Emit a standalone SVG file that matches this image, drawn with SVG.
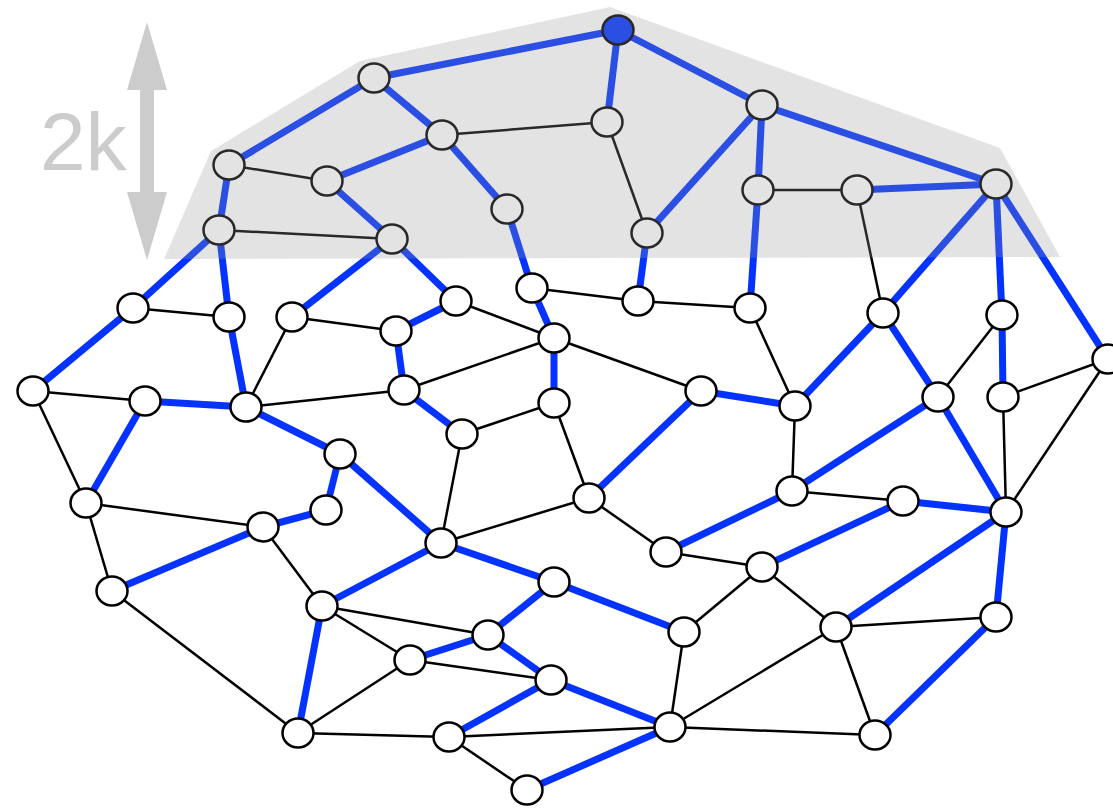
<svg xmlns="http://www.w3.org/2000/svg" width="1113" height="808" viewBox="0 0 1113 808">
<style>
.b{stroke:#0433ff;stroke-width:7;stroke-linecap:butt}
.k{stroke:#000;stroke-width:2.5}
.n{fill:#fff;stroke:#000;stroke-width:2.5}
.f{fill:#0433ff;stroke:#000;stroke-width:2.5}
.shade{fill:#999;opacity:0.27}
.arr{fill:#cccccc}
.lbl{font-family:"Liberation Sans",Arial,sans-serif;font-size:82px;fill:#cccccc}
</style>
<g id="connectors">
<line class="k" x1="229" y1="165" x2="327" y2="181"/>
<line class="k" x1="442" y1="135" x2="607" y2="122"/>
<line class="k" x1="607" y1="122" x2="647" y2="233"/>
<line class="k" x1="758" y1="190" x2="857" y2="190"/>
<line class="k" x1="857" y1="190" x2="883" y2="313"/>
<line class="k" x1="219" y1="230" x2="392" y2="239"/>
<line class="k" x1="133" y1="308" x2="229" y2="317"/>
<line class="k" x1="292" y1="317" x2="396" y2="331"/>
<line class="k" x1="292" y1="317" x2="246" y2="407"/>
<line class="k" x1="33" y1="391" x2="145" y2="401"/>
<line class="k" x1="33" y1="391" x2="86" y2="503"/>
<line class="k" x1="246" y1="407" x2="404" y2="390"/>
<line class="k" x1="86" y1="503" x2="263" y2="527"/>
<line class="k" x1="263" y1="527" x2="322" y2="606"/>
<line class="k" x1="112" y1="591" x2="298" y2="733"/>
<line class="k" x1="86" y1="503" x2="112" y2="591"/>
<line class="k" x1="456" y1="301" x2="554" y2="338"/>
<line class="k" x1="532" y1="288" x2="638" y2="301"/>
<line class="k" x1="638" y1="301" x2="750" y2="308"/>
<line class="k" x1="554" y1="338" x2="404" y2="390"/>
<line class="k" x1="554" y1="338" x2="701" y2="391"/>
<line class="k" x1="462" y1="434" x2="554" y2="403"/>
<line class="k" x1="462" y1="434" x2="441" y2="543"/>
<line class="k" x1="554" y1="403" x2="589" y2="498"/>
<line class="k" x1="589" y1="498" x2="441" y2="543"/>
<line class="k" x1="589" y1="498" x2="666" y2="552"/>
<line class="k" x1="750" y1="308" x2="795" y2="406"/>
<line class="k" x1="795" y1="406" x2="792" y2="491"/>
<line class="k" x1="792" y1="491" x2="903" y2="501"/>
<line class="k" x1="938" y1="397" x2="1002" y2="315"/>
<line class="k" x1="1003" y1="397" x2="1108" y2="359"/>
<line class="k" x1="1003" y1="397" x2="1006" y2="512"/>
<line class="k" x1="1108" y1="359" x2="1006" y2="512"/>
<line class="k" x1="762" y1="567" x2="684" y2="632"/>
<line class="k" x1="762" y1="567" x2="836" y2="627"/>
<line class="k" x1="836" y1="627" x2="996" y2="617"/>
<line class="k" x1="836" y1="627" x2="670" y2="727"/>
<line class="k" x1="836" y1="627" x2="875" y2="735"/>
<line class="k" x1="875" y1="735" x2="670" y2="727"/>
<line class="k" x1="666" y1="552" x2="762" y2="567"/>
<line class="k" x1="684" y1="632" x2="670" y2="727"/>
<line class="k" x1="670" y1="727" x2="449" y2="737"/>
<line class="k" x1="298" y1="733" x2="449" y2="737"/>
<line class="k" x1="449" y1="737" x2="527" y2="790"/>
<line class="k" x1="322" y1="606" x2="488" y2="635"/>
<line class="k" x1="322" y1="606" x2="410" y2="660"/>
<line class="k" x1="410" y1="660" x2="551" y2="680"/>
<line class="k" x1="410" y1="660" x2="298" y2="733"/>

<line class="b" x1="618" y1="30" x2="374" y2="78"/>
<line class="b" x1="618" y1="30" x2="607" y2="122"/>
<line class="b" x1="618" y1="30" x2="762" y2="105"/>
<line class="b" x1="374" y1="78" x2="229" y2="165"/>
<line class="b" x1="374" y1="78" x2="442" y2="135"/>
<line class="b" x1="442" y1="135" x2="327" y2="181"/>
<line class="b" x1="442" y1="135" x2="507" y2="209"/>
<line class="b" x1="762" y1="105" x2="647" y2="233"/>
<line class="b" x1="762" y1="105" x2="758" y2="190"/>
<line class="b" x1="762" y1="105" x2="996" y2="184"/>
<line class="b" x1="857" y1="190" x2="996" y2="184"/>
<line class="b" x1="996" y1="184" x2="883" y2="313"/>
<line class="b" x1="996" y1="184" x2="1002" y2="315"/>
<line class="b" x1="996" y1="184" x2="1108" y2="359"/>
<line class="b" x1="229" y1="165" x2="219" y2="230"/>
<line class="b" x1="327" y1="181" x2="392" y2="239"/>
<line class="b" x1="219" y1="230" x2="133" y2="308"/>
<line class="b" x1="219" y1="230" x2="229" y2="317"/>
<line class="b" x1="229" y1="317" x2="246" y2="407"/>
<line class="b" x1="392" y1="239" x2="292" y2="317"/>
<line class="b" x1="392" y1="239" x2="456" y2="301"/>
<line class="b" x1="507" y1="209" x2="532" y2="288"/>
<line class="b" x1="532" y1="288" x2="554" y2="338"/>
<line class="b" x1="554" y1="338" x2="554" y2="403"/>
<line class="b" x1="647" y1="233" x2="638" y2="301"/>
<line class="b" x1="758" y1="190" x2="750" y2="308"/>
<line class="b" x1="133" y1="308" x2="33" y2="391"/>
<line class="b" x1="145" y1="401" x2="86" y2="503"/>
<line class="b" x1="145" y1="401" x2="246" y2="407"/>
<line class="b" x1="246" y1="407" x2="340" y2="454"/>
<line class="b" x1="340" y1="454" x2="326" y2="510"/>
<line class="b" x1="340" y1="454" x2="441" y2="543"/>
<line class="b" x1="326" y1="510" x2="263" y2="527"/>
<line class="b" x1="263" y1="527" x2="112" y2="591"/>
<line class="b" x1="456" y1="301" x2="396" y2="331"/>
<line class="b" x1="396" y1="331" x2="404" y2="390"/>
<line class="b" x1="404" y1="390" x2="462" y2="434"/>
<line class="b" x1="701" y1="391" x2="795" y2="406"/>
<line class="b" x1="701" y1="391" x2="589" y2="498"/>
<line class="b" x1="883" y1="313" x2="795" y2="406"/>
<line class="b" x1="883" y1="313" x2="938" y2="397"/>
<line class="b" x1="938" y1="397" x2="792" y2="491"/>
<line class="b" x1="938" y1="397" x2="1006" y2="512"/>
<line class="b" x1="1002" y1="315" x2="1003" y2="397"/>
<line class="b" x1="903" y1="501" x2="1006" y2="512"/>
<line class="b" x1="792" y1="491" x2="666" y2="552"/>
<line class="b" x1="903" y1="501" x2="762" y2="567"/>
<line class="b" x1="1006" y1="512" x2="836" y2="627"/>
<line class="b" x1="1006" y1="512" x2="996" y2="617"/>
<line class="b" x1="996" y1="617" x2="875" y2="735"/>
<line class="b" x1="441" y1="543" x2="322" y2="606"/>
<line class="b" x1="441" y1="543" x2="554" y2="582"/>
<line class="b" x1="554" y1="582" x2="684" y2="632"/>
<line class="b" x1="554" y1="582" x2="488" y2="635"/>
<line class="b" x1="488" y1="635" x2="410" y2="660"/>
<line class="b" x1="488" y1="635" x2="551" y2="680"/>
<line class="b" x1="551" y1="680" x2="449" y2="737"/>
<line class="b" x1="551" y1="680" x2="670" y2="727"/>
<line class="b" x1="670" y1="727" x2="527" y2="790"/>
<line class="b" x1="322" y1="606" x2="298" y2="733"/>
</g>
<g id="nA"><ellipse class="f" cx="618" cy="30" rx="15.5" ry="14.5"/></g>
<g id="nB"><ellipse class="n" cx="374" cy="78" rx="15.5" ry="14.5"/></g>
<g id="nC"><ellipse class="n" cx="442" cy="135" rx="15.5" ry="14.5"/></g>
<g id="nD"><ellipse class="n" cx="607" cy="122" rx="15.5" ry="14.5"/></g>
<g id="nE"><ellipse class="n" cx="762" cy="105" rx="15.5" ry="14.5"/></g>
<g id="nF"><ellipse class="n" cx="229" cy="165" rx="15.5" ry="14.5"/></g>
<g id="nG"><ellipse class="n" cx="327" cy="181" rx="15.5" ry="14.5"/></g>
<g id="nH"><ellipse class="n" cx="507" cy="209" rx="15.5" ry="14.5"/></g>
<g id="nI"><ellipse class="n" cx="647" cy="233" rx="15.5" ry="14.5"/></g>
<g id="nJ"><ellipse class="n" cx="758" cy="190" rx="15.5" ry="14.5"/></g>
<g id="nK"><ellipse class="n" cx="857" cy="190" rx="15.5" ry="14.5"/></g>
<g id="nL"><ellipse class="n" cx="996" cy="184" rx="15.5" ry="14.5"/></g>
<g id="nM"><ellipse class="n" cx="219" cy="230" rx="15.5" ry="14.5"/></g>
<g id="nN"><ellipse class="n" cx="392" cy="239" rx="15.5" ry="14.5"/></g>
<g id="nO"><ellipse class="n" cx="133" cy="308" rx="15.5" ry="14.5"/></g>
<g id="nP"><ellipse class="n" cx="229" cy="317" rx="15.5" ry="14.5"/></g>
<g id="nQ"><ellipse class="n" cx="292" cy="317" rx="15.5" ry="14.5"/></g>
<g id="nR"><ellipse class="n" cx="456" cy="301" rx="15.5" ry="14.5"/></g>
<g id="nS"><ellipse class="n" cx="396" cy="331" rx="15.5" ry="14.5"/></g>
<g id="nT"><ellipse class="n" cx="532" cy="288" rx="15.5" ry="14.5"/></g>
<g id="nU"><ellipse class="n" cx="638" cy="301" rx="15.5" ry="14.5"/></g>
<g id="nV"><ellipse class="n" cx="750" cy="308" rx="15.5" ry="14.5"/></g>
<g id="nW"><ellipse class="n" cx="883" cy="313" rx="15.5" ry="14.5"/></g>
<g id="nX"><ellipse class="n" cx="1002" cy="315" rx="15.5" ry="14.5"/></g>
<g id="nY"><ellipse class="n" cx="1108" cy="359" rx="15.5" ry="14.5"/></g>
<g id="nZ"><ellipse class="n" cx="33" cy="391" rx="15.5" ry="14.5"/></g>
<g id="nAA"><ellipse class="n" cx="145" cy="401" rx="15.5" ry="14.5"/></g>
<g id="nAB"><ellipse class="n" cx="246" cy="407" rx="15.5" ry="14.5"/></g>
<g id="nAC"><ellipse class="n" cx="404" cy="390" rx="15.5" ry="14.5"/></g>
<g id="nAD"><ellipse class="n" cx="554" cy="338" rx="15.5" ry="14.5"/></g>
<g id="nAE"><ellipse class="n" cx="554" cy="403" rx="15.5" ry="14.5"/></g>
<g id="nAF"><ellipse class="n" cx="701" cy="391" rx="15.5" ry="14.5"/></g>
<g id="nAG"><ellipse class="n" cx="795" cy="406" rx="15.5" ry="14.5"/></g>
<g id="nAH"><ellipse class="n" cx="938" cy="397" rx="15.5" ry="14.5"/></g>
<g id="nAI"><ellipse class="n" cx="1003" cy="397" rx="15.5" ry="14.5"/></g>
<g id="nAJ"><ellipse class="n" cx="462" cy="434" rx="15.5" ry="14.5"/></g>
<g id="nAK"><ellipse class="n" cx="340" cy="454" rx="15.5" ry="14.5"/></g>
<g id="nAL"><ellipse class="n" cx="86" cy="503" rx="15.5" ry="14.5"/></g>
<g id="nAM"><ellipse class="n" cx="263" cy="527" rx="15.5" ry="14.5"/></g>
<g id="nAN"><ellipse class="n" cx="326" cy="510" rx="15.5" ry="14.5"/></g>
<g id="nAO"><ellipse class="n" cx="589" cy="498" rx="15.5" ry="14.5"/></g>
<g id="nAP"><ellipse class="n" cx="792" cy="491" rx="15.5" ry="14.5"/></g>
<g id="nAQ"><ellipse class="n" cx="903" cy="501" rx="15.5" ry="14.5"/></g>
<g id="nAR"><ellipse class="n" cx="1006" cy="512" rx="15.5" ry="14.5"/></g>
<g id="nAS"><ellipse class="n" cx="441" cy="543" rx="15.5" ry="14.5"/></g>
<g id="nAT"><ellipse class="n" cx="666" cy="552" rx="15.5" ry="14.5"/></g>
<g id="nAU"><ellipse class="n" cx="762" cy="567" rx="15.5" ry="14.5"/></g>
<g id="nAV"><ellipse class="n" cx="112" cy="591" rx="15.5" ry="14.5"/></g>
<g id="nAW"><ellipse class="n" cx="554" cy="582" rx="15.5" ry="14.5"/></g>
<g id="nAX"><ellipse class="n" cx="322" cy="606" rx="15.5" ry="14.5"/></g>
<g id="nAY"><ellipse class="n" cx="684" cy="632" rx="15.5" ry="14.5"/></g>
<g id="nAZ"><ellipse class="n" cx="836" cy="627" rx="15.5" ry="14.5"/></g>
<g id="nBA"><ellipse class="n" cx="996" cy="617" rx="15.5" ry="14.5"/></g>
<g id="nBB"><ellipse class="n" cx="488" cy="635" rx="15.5" ry="14.5"/></g>
<g id="nBC"><ellipse class="n" cx="410" cy="660" rx="15.5" ry="14.5"/></g>
<g id="nBD"><ellipse class="n" cx="551" cy="680" rx="15.5" ry="14.5"/></g>
<g id="nBE"><ellipse class="n" cx="298" cy="733" rx="15.5" ry="14.5"/></g>
<g id="nBF"><ellipse class="n" cx="449" cy="737" rx="15.5" ry="14.5"/></g>
<g id="nBG"><ellipse class="n" cx="670" cy="727" rx="15.5" ry="14.5"/></g>
<g id="nBH"><ellipse class="n" cx="875" cy="735" rx="15.5" ry="14.5"/></g>
<g id="nBI"><ellipse class="n" cx="527" cy="790" rx="15.5" ry="14.5"/></g>
<g id="shade-region"><polygon class="shade" points="164,259 211,151 360,61 610,7 1000,148 1060,257"/></g>
<g id="height-marker">
<polygon class="arr" points="147,22 167,90 154,90 154,192 167,192 147,260 127,192 140,192 140,90 127,90"/>
<text class="lbl" x="40" y="170">2k</text>
</g>
</svg>
